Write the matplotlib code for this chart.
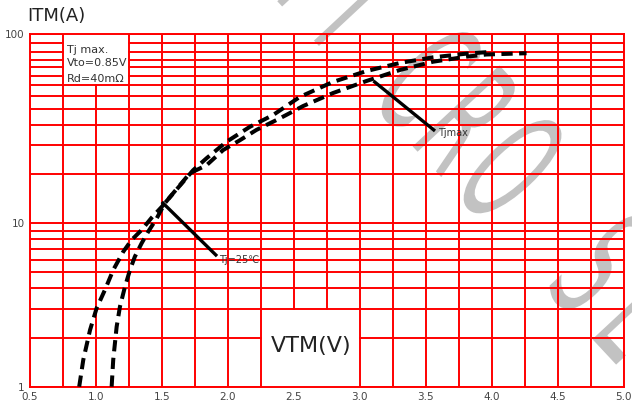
import numpy as np
import matplotlib
matplotlib.use('Agg')
import matplotlib.pyplot as plt
from matplotlib.patches import Rectangle, PathPatch
from matplotlib.path import Path
from matplotlib.textpath import TextPath
from matplotlib.transforms import Affine2D, IdentityTransform
from matplotlib.font_manager import FontProperties
from matplotlib.ticker import FixedLocator, FixedFormatter

plt.rcParams['font.family'] = ['DejaVu Sans']

# curve data (V, A)
v_tjmax = [0.873, 0.904, 0.955, 1.005, 1.068, 1.131, 1.207, 1.270, 1.346, 1.422, 1.498,
           1.712, 1.839, 1.964, 2.091, 2.217, 2.394, 2.570, 2.798, 3.051, 3.303, 3.555,
           3.808, 3.960, 4.265]
i_tjmax = [1.0, 1.46, 2.22, 3.02, 3.91, 5.18, 6.70, 7.90, 9.10, 10.7, 12.2,
           18.4, 20.3, 24.4, 27.5, 31.2, 35.9, 41.7, 48.9, 56.6, 64.7, 71.6,
           76.1, 78.2, 79.4]
v_tj25 = [1.119, 1.131, 1.157, 1.182, 1.220, 1.258, 1.295, 1.346, 1.396, 1.460, 1.523,
          1.737, 1.839, 1.990, 2.167, 2.343, 2.545, 2.795, 3.051, 3.303, 3.553, 3.808, 3.960]
i_tj25 = [1.0, 1.46, 2.33, 3.09, 4.09, 5.18, 6.25, 7.54, 8.88, 10.6, 12.8,
          19.1, 22.1, 27.0, 32.4, 37.4, 46.6, 55.9, 63.9, 70.5, 75.5, 79.0, 80.4]

x_ticks = [0.5, 1.0, 1.5, 2.0, 2.5, 3.0, 3.5, 4.0, 4.5, 5.0]
y_ticks = [1, 10, 100]
y_labels = ['1', '10', '100']

# upper decade is drawn taller than the lower one in the original
TOP = 189 / 163.4


def fwd(y):
    y = np.log10(np.clip(np.asarray(y, dtype=float), 1e-300, None))
    return np.where(y <= 1, y, 1 + (y - 1) * TOP)


def inv(u):
    u = np.asarray(u, dtype=float)
    return np.where(u <= 1, 10 ** u, 10 ** (1 + (u - 1) / TOP))


fig = plt.figure(figsize=(6.32, 4.07), dpi=100)
ax = fig.add_axes([30 / 632, 20.3 / 407, 593.5 / 632, 352.4 / 407])
ax.set_facecolor('none')
ax.set_yscale('function', functions=(fwd, inv))
ax.set_xlim(0.5, 5.0)
ax.set_ylim(1, 100)

# grid
y_minor = list(range(2, 10)) + [10 ** (1 + np.log10(k) / TOP) for k in range(2, 11)] \
    + [10 ** 1.908, 10 ** 1.954]
ax.xaxis.set_major_locator(FixedLocator(x_ticks))
ax.xaxis.set_minor_locator(FixedLocator([x + 0.25 for x in x_ticks[:-1]]))
ax.yaxis.set_major_locator(FixedLocator(y_ticks))
ax.yaxis.set_major_formatter(FixedFormatter(y_labels))
ax.yaxis.set_minor_locator(FixedLocator(y_minor))
ax.yaxis.set_minor_formatter(FixedFormatter([''] * len(y_minor)))
ax.set_xticklabels(['%.1f' % x for x in x_ticks])
ax.set_axisbelow(True)
ax.grid(True, which='both', color='#ff0000', lw=1.4)
ax.tick_params(which='both', length=0, labelsize=7.5, labelcolor='#444444')
ax.tick_params(axis='x', pad=4)
ax.tick_params(axis='y', pad=4)
for s in ax.spines.values():
    s.set_color('#ff0000')
    s.set_linewidth(1.4)

# white boxes behind the labels
ax.add_patch(Rectangle((2.259, 1), 0.732, 2.95 - 1, fc='white', ec='none', zorder=1))
g7 = 10 ** (1 + np.log10(7) / TOP)
ax.add_patch(Rectangle((0.759, g7 * 10 ** (1.2 / 189)), 0.482, 100 - g7 * 10 ** (1.2 / 189),
                       fc='white', ec='none', zorder=1))

# curves
ax.plot(v_tjmax, i_tjmax, color='black', lw=2.9, dashes=(2.8, 1.6), zorder=3)
ax.plot(v_tj25, i_tj25, color='black', lw=2.9, dashes=(2.8, 1.6), zorder=3)

# annotations
ax.plot([1.508, 1.909], [12.8, 6.40], color='black', lw=2.4, zorder=3)
ax.text(1.935, 5.96, 'Tj=25\u2103', fontsize=7, color='#333333', va='center', zorder=4)
ax.plot([3.114, 3.561], [55.9, 31.2], color='black', lw=2.4, zorder=3)
ax.text(3.59, 30.1, 'Tjmax', fontsize=7, color='#333333', va='center', zorder=4)

ax.text(0.78, 82.6, 'Tj max.', fontsize=8, color='#333333', va='center', zorder=4)
ax.text(0.78, 70.5, 'Vto=0.85V', fontsize=8, color='#333333', va='center', zorder=4)
ax.text(0.78, 58.0, 'Rd=40m\u03a9', fontsize=8, color='#333333', va='center', zorder=4)

ax.text(2.63, 1.78, 'VTM(V)', fontsize=16, color='#222222', ha='center', va='center', zorder=4)
fig.text(27 / 632, 1 - 16 / 407, 'ITM(A)', fontsize=13, color='#222222', va='center')

# watermark: letters spaced along a slanted baseline, "C" anchored like the original
wm_font = FontProperties(family='DejaVu Sans')
wm_size = 74
wm_letters = ['M', 'I', 'C', 'R', 'O', 'S', 'E', 'M', 'I']
wm_offsets = [-175, -100, 0, 62, 124, 255, 322, 392, 457]
cap = TextPath((0, 0), 'C', size=wm_size, prop=wm_font).get_extents()
paths = []
for ch, off in zip(wm_letters, wm_offsets):
    p = TextPath((0, 0), ch, size=wm_size, prop=wm_font)
    e = p.get_extents()
    paths.append(Affine2D().translate(off - (e.x0 + e.x1) / 2, -(cap.y0 + cap.y1) / 2)
                 .transform_path(p))
wm_path = Path.make_compound_path(*paths)
tr = Affine2D().scale(1.0, 2.2).rotate_deg(-47).translate(428, 407 - 76)
wm = PathPatch(tr.transform_path(wm_path), fc='#c2c2c2', ec='none',
               transform=IdentityTransform(), zorder=-1)
fig.add_artist(wm)

fig.savefig('out.png', dpi=100)
